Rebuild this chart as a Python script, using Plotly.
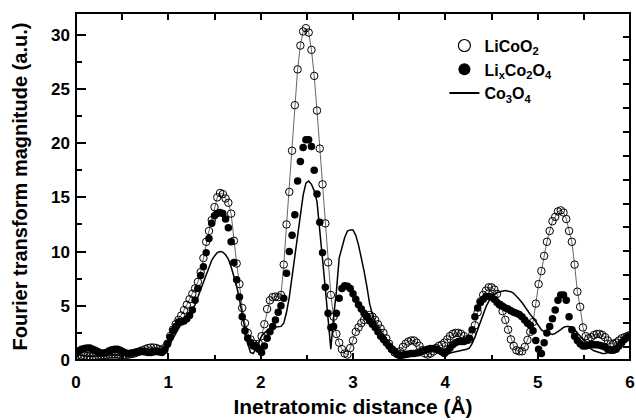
import plotly.graph_objects as go

# Radial grid (Angstrom): first point and step
r_start = 0.0
r_step = 0.03

# LiCoO2 (open circles), 0.00 .. 6.00 A
licoo2 = [
    0.6, 0.5, 0.4, 0.4, 0.35, 0.35, 0.35, 0.35, 0.4, 0.4,
    0.45, 0.45, 0.5, 0.5, 0.5, 0.5, 0.45, 0.45, 0.45, 0.5,
    0.55, 0.6, 0.7, 0.8, 0.9, 1.0, 1.1, 1.15, 1.15, 1.1,
    1.0, 0.95, 1.1, 1.5, 2.2, 2.8, 3.3, 3.7, 4.1, 4.6,
    5.1, 5.6, 6.1, 6.6, 7.2, 8.1, 9.4, 10.9, 11.9, 12.9,
    14.1, 15.0, 15.4, 15.3, 14.9, 14.5, 13.5, 11.0, 8.9, 7.0,
    4.8, 3.4, 2.5, 1.9, 1.5, 1.3, 1.5, 2.2, 3.3, 4.7,
    5.5, 5.8, 5.85, 5.8, 6.0, 8.8, 12.5, 15.5, 19.3, 23.5,
    26.8, 29.0, 30.3, 30.6, 30.2, 28.6, 26.2, 23.0, 19.5, 16.2,
    12.6, 9.0, 6.0, 4.0, 2.4, 1.6, 1.0, 0.6, 0.5, 1.1,
    1.8, 2.6, 3.0, 3.4, 3.7, 4.0, 4.15, 4.0, 3.7, 3.3,
    2.9, 2.5, 2.0, 1.5, 1.0, 0.7, 0.6, 0.8, 1.2, 1.5,
    1.7, 1.8, 1.8, 1.6, 1.3, 0.9, 0.6, 0.5, 0.6, 0.8,
    1.1, 1.3, 1.4, 1.6, 1.9, 2.2, 2.4, 2.5, 2.5, 2.4,
    2.2, 1.9, 1.9, 2.3, 3.2, 4.4, 5.4, 6.0, 6.4, 6.7,
    6.7, 6.5, 6.1, 5.1, 4.5, 3.7, 2.8, 1.9, 1.3, 0.9,
    0.8, 0.8, 1.2, 1.85, 2.6, 3.5, 5.2, 7.0, 8.2, 9.6,
    10.9, 11.9, 12.8, 13.2, 13.7, 13.8, 13.6, 13.0, 11.9, 10.9,
    8.8, 6.3, 4.9, 3.0, 2.2, 2.0, 2.1, 2.3, 2.4, 2.4,
    2.3, 2.1, 1.8, 1.5, 1.5, 1.6, 1.8, 2.0, 2.1, 2.2,
    2.3,
]

# LixCo2O4 (filled circles)
lixco2o4 = [
    0.7, 0.85, 1.0, 1.05, 1.1, 1.1, 1.0, 0.9, 0.75, 0.65,
    0.65, 0.7, 0.85, 0.95, 1.0, 1.0, 0.9, 0.75, 0.65, 0.6,
    0.65, 0.7, 0.75, 0.8, 0.8, 0.75, 0.7, 0.7, 0.75, 0.8,
    0.75, 0.7, 0.9, 1.5, 2.1, 2.7, 3.1, 3.5, 3.5, 3.6,
    3.8, 4.1, 4.6, 5.5, 6.6, 7.8, 8.6, 9.9, 11.2, 12.6,
    13.3, 13.5, 13.6, 13.5, 13.0, 12.2, 10.9, 9.0, 7.4, 5.8,
    4.0, 2.7, 2.0, 1.6, 1.3, 1.2, 1.0, 0.7, 1.3, 2.0,
    2.6, 3.1, 3.7, 4.4, 5.0, 5.7, 8.0, 10.0, 11.5, 13.4,
    16.5, 18.3, 19.6, 20.3, 20.3, 19.7, 17.5, 15.3, 12.7, 9.9,
    6.7, 4.3, 3.0, 3.1, 4.3, 5.7, 6.6, 6.85, 6.8, 6.6,
    6.1, 5.6, 5.1, 4.7, 4.3, 4.0, 3.6, 3.3, 3.0, 2.6,
    2.2, 1.9, 1.6, 1.3, 1.0, 0.8, 0.5, 0.4, 0.45, 0.5,
    0.55, 0.6, 0.6, 0.65, 0.7, 0.8, 0.9, 1.0, 1.05, 1.05,
    1.0, 0.9, 0.75, 0.6, 0.8, 1.1, 1.4, 1.6, 1.7, 1.7,
    1.7, 1.8, 2.0, 2.8, 4.0, 4.8, 5.3, 5.6, 5.85, 5.85,
    5.8, 5.6, 5.3, 5.1, 4.95, 4.8, 4.7, 4.55, 4.4, 4.3,
    4.2, 4.0, 3.7, 3.4, 3.2, 2.7, 1.8, 1.0, 0.6, 1.6,
    2.5, 3.1, 3.8, 4.6, 5.5, 6.0, 6.0, 5.5, 4.0, 2.8,
    2.2, 1.8, 1.5, 1.3, 1.3, 1.35, 1.4, 1.4, 1.4, 1.35,
    1.3, 1.2, 1.0, 0.9, 0.9, 1.0, 1.3, 1.6, 1.9, 2.1,
    2.2,
]

# Co3O4 (solid line)
co3o4 = [
    0.5, 0.45, 0.4, 0.4, 0.35, 0.35, 0.35, 0.35, 0.35, 0.4,
    0.4, 0.4, 0.45, 0.45, 0.45, 0.45, 0.4, 0.4, 0.4, 0.4,
    0.4, 0.45, 0.45, 0.5, 0.5, 0.5, 0.5, 0.45, 0.45, 0.45,
    0.45, 0.5, 0.7, 1.0, 1.5, 2.0, 2.5, 2.9, 3.3, 3.6,
    3.9, 4.3, 4.7, 5.1, 5.8, 6.5, 7.2, 8.0, 8.7, 9.2,
    9.6, 9.9, 10.0, 9.95, 9.7, 9.3, 8.6, 7.8, 6.8, 5.6,
    4.3, 2.9, 1.5, 0.7, 0.6, 1.1, 1.7, 2.2, 2.5, 2.7,
    2.9, 3.0, 3.05, 3.05, 3.1, 3.4, 4.4, 5.8, 7.7, 9.6,
    11.5, 13.5, 15.2, 16.3, 16.5, 16.2, 15.6, 14.6, 12.2, 9.3,
    6.6, 3.8, 1.0, 4.0, 6.3, 9.4, 10.5, 11.3, 11.9, 12.0,
    12.0, 11.5, 10.6, 9.5, 8.2, 6.8, 5.2, 4.2, 3.4, 2.8,
    2.3, 1.8, 1.3, 1.0, 0.7, 0.5, 0.4, 0.35, 0.4, 0.5,
    0.55, 0.6, 0.65, 0.7, 0.75, 0.8, 0.85, 0.9, 0.9, 0.9,
    0.85, 0.75, 0.65, 0.6, 0.6, 0.65, 0.7, 0.75, 0.8, 0.85,
    0.9, 1.0, 1.1, 1.5, 2.1, 2.8, 3.6, 4.3, 4.9, 5.4,
    5.8, 6.0, 6.2, 6.3, 6.35, 6.4, 6.35, 6.3, 6.15, 5.9,
    5.6, 5.3, 4.9, 4.6, 4.2, 3.9, 3.5, 3.1, 2.8, 2.6,
    2.5, 2.4, 2.35, 2.45, 2.6, 2.8, 3.0, 3.1, 3.1, 3.0,
    2.8, 2.5, 2.2, 1.85, 1.5, 1.2, 1.0, 0.85, 0.75, 0.7,
    0.6, 0.6, 0.65, 0.75, 0.9, 1.1, 1.3, 1.5, 1.7, 1.8,
    1.9,
]

names = ["LiCoO<sub>2</sub>", "Li<sub>x</sub>Co<sub>2</sub>O<sub>4</sub>", "Co<sub>3</sub>O<sub>4</sub>"]

FONT = "Liberation Sans, Arial, sans-serif"

fig = go.Figure()
# thin grey connecting line for LiCoO2
fig.add_trace(go.Scatter(y=licoo2, x0=r_start, dx=r_step, mode="lines",
                         line=dict(color="#666666", width=1), showlegend=False,
                         hoverinfo="skip"))
fig.add_trace(go.Scatter(y=licoo2, x0=r_start, dx=r_step, mode="markers", name=names[0],
                         legendgroup="a", showlegend=False,
                         marker=dict(symbol="circle-open", size=7.5, color="black",
                                     line=dict(width=1, color="black"))))
fig.add_trace(go.Scatter(y=lixco2o4, x0=r_start, dx=r_step, mode="markers", name=names[1],
                         legendgroup="b", showlegend=False,
                         marker=dict(symbol="circle", size=7.5, color="black")))
fig.add_trace(go.Scatter(y=co3o4, x0=r_start, dx=r_step, mode="lines", name=names[2],
                         line=dict(color="black", width=1.5), showlegend=False))
# legend-only entries (larger legend symbols as in the original)
fig.add_trace(go.Scatter(x=[None], y=[None], mode="markers", name=names[0], legendgroup="a",
                         marker=dict(symbol="circle-open", size=12, color="black",
                                     line=dict(width=1.2, color="black"))))
fig.add_trace(go.Scatter(x=[None], y=[None], mode="markers", name=names[1], legendgroup="b",
                         marker=dict(symbol="circle", size=12, color="black")))
fig.add_trace(go.Scatter(x=[None], y=[None], mode="lines", name=names[2],
                         line=dict(color="black", width=2)))
# empty trace to anchor the mirrored top/right tick axes
fig.add_trace(go.Scatter(x=[], y=[], xaxis="x2", yaxis="y2", showlegend=False, hoverinfo="skip"))

tickfont = dict(family=FONT, size=17, color="black", weight="bold")

fig.update_layout(
    width=636, height=420,
    margin=dict(l=76, r=6, t=13, b=60, autoexpand=False),
    paper_bgcolor="white", plot_bgcolor="white",
    font=dict(family=FONT, color="black"),
    showlegend=True,
    legend=dict(x=0.665, y=0.955, xanchor="left", yanchor="top",
                bgcolor="rgba(0,0,0,0)", font=dict(family=FONT, size=16, color="black", weight="bold"),
                itemwidth=30, tracegroupgap=0),
    xaxis=dict(range=[0, 6], dtick=1, tick0=0, ticks="inside", ticklen=7, tickwidth=2,
               tickcolor="black", showline=False,
               showgrid=False, zeroline=False, tickfont=tickfont, automargin=False,
               ticklabeloverflow="allow", ticklabelstandoff=10,
               minor=dict(dtick=0.5, ticks="inside", ticklen=5, tickwidth=2, tickcolor="black", showgrid=False),
               title=dict(text="Inetratomic distance (Å)", font=dict(family=FONT, size=21, color="black", weight="bold"),
                          standoff=8)),
    yaxis=dict(range=[0, 32], dtick=5, tick0=0, ticks="inside", ticklen=10, tickwidth=2,
               tickcolor="black", showline=False,
               showgrid=False, zeroline=False, tickfont=tickfont, automargin=False,
               ticklabelstandoff=5,
               minor=dict(dtick=2.5, ticks="inside", ticklen=6, tickwidth=2, tickcolor="black", showgrid=False),
               title=dict(text="Fourier transform magnitude (a.u.)", font=dict(family=FONT, size=20, color="black", weight="bold"),
                          standoff=18)),
    xaxis2=dict(range=[0, 6], overlaying="x", side="top", anchor="y2", dtick=0.5, tick0=0,
                ticks="inside", ticklen=7, tickwidth=2, tickcolor="black", showticklabels=False,
                showgrid=False, zeroline=False, showline=False, automargin=False),
    yaxis2=dict(range=[-0.558, 13.99], overlaying="y", side="right", anchor="x2", dtick=1, tick0=0,
                ticks="inside", ticklen=7, tickwidth=2, tickcolor="black", showticklabels=False,
                showgrid=False, zeroline=False, showline=False, automargin=False),
    shapes=[dict(type="rect", xref="paper", yref="paper", x0=0, x1=1, y0=0, y1=1,
                 line=dict(color="black", width=2), fillcolor="rgba(0,0,0,0)", layer="above")],
)

fig.write_html("out.html", config={"displayModeBar": False},
               post_script="document.body.style.margin='0';")
